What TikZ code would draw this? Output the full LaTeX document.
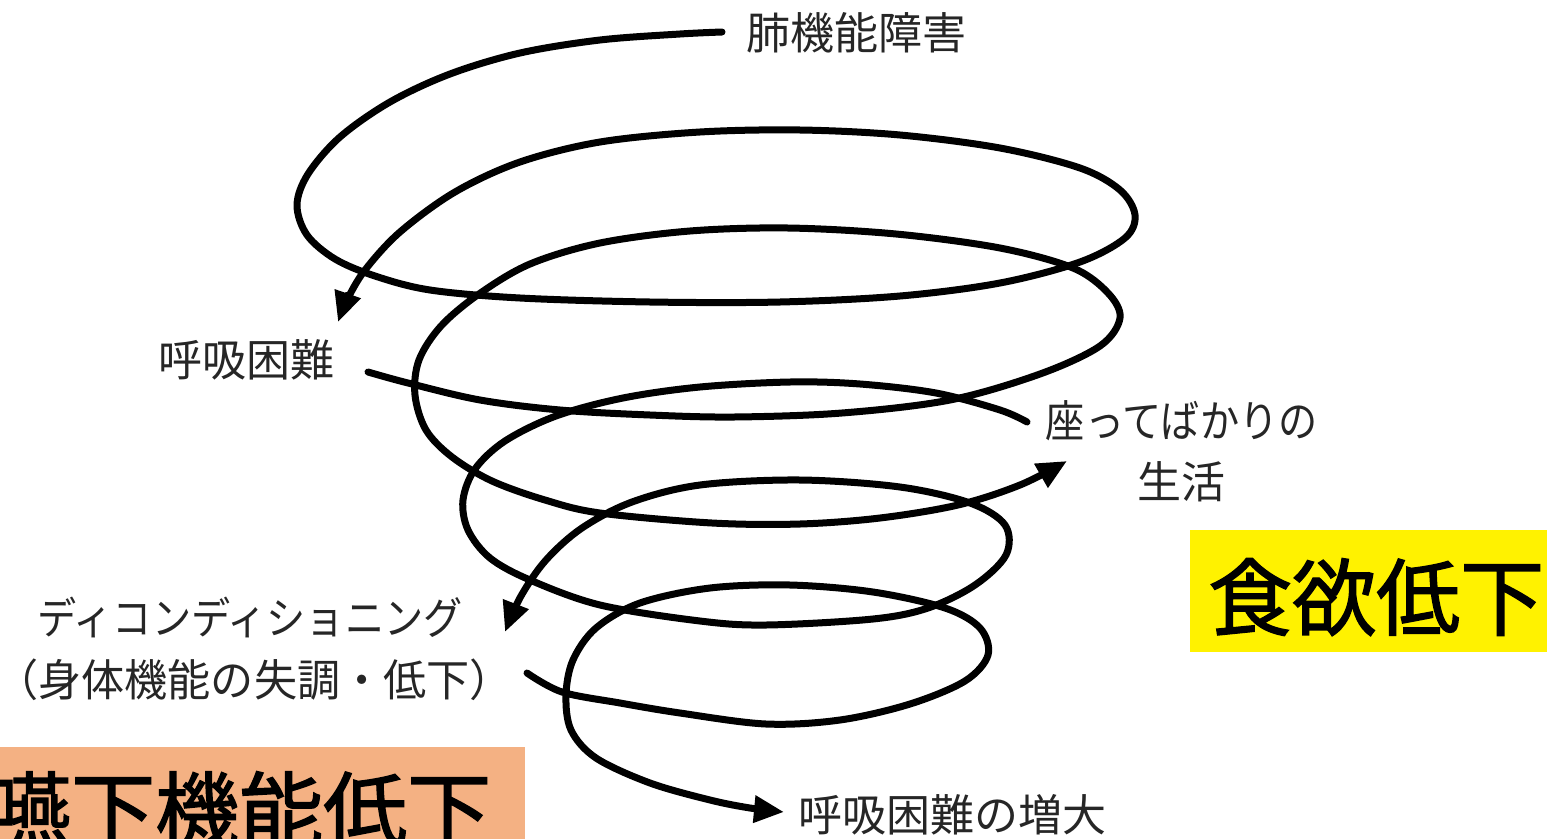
\documentclass[tikz,border=0pt]{standalone}
\usepackage{fontspec}
\setmainfont{Noto Sans CJK JP}
\newfontfamily\bigfont[FakeBold=1.6]{Noto Sans CJK JP}
\usetikzlibrary{arrows.meta}
\definecolor{peach}{RGB}{244,177,131}
\definecolor{lbl}{gray}{0.15}
\tikzset{
 spiral/.style={line width=7pt, line cap=round, line join=round, smooth, tension=0.55},
 tip/.style={-{Triangle[length=30pt,width=26pt]}},
 lab/.style={text=lbl, font=\fontsize{44}{50}\selectfont, inner sep=0pt},
 big/.style={font=\bigfont\fontsize{84}{90}\selectfont, inner sep=0pt, anchor=base west},
}
\begin{document}
\begin{tikzpicture}[x=1pt,y=-1pt]
\useasboundingbox (0,0) rectangle (1547,838);
\clip (0,0) rectangle (1547,838);
\fill[white] (0,0) rectangle (1547,838);

% labels
\node[lab] (lung) at (856,33) {肺機能障害};
\node[lab] (dysp) at (246,360) {呼吸困難};
\node[lab] (sit) at (1182,421) {\scalebox{0.89}[1]{座ってばかりの}};
\node[lab] (life) at (1181,482) {生活};
\node[lab] (decond) at (250,617) {\scalebox{0.89}[1]{ディコンディショニング}};
\node[lab] (decond2) at (254,680) {\scalebox{0.98}[1]{（身体機能の失調・低下）}};
\node[lab] (more) at (952,815) {呼吸困難の増大};

% coloured boxes
\fill[yellow] (1190,530) rectangle (1547,652);
\node[big] (appetite) at (1208,629) {食欲低下};
\fill[peach] (-5,747) rectangle (525,845);
\node[big] (swallow) at (-13,842) {嚥下機能低下};

% end points of the spiral segments
\coordinate (a0) at (722,32);
\coordinate (a1) at (338,322);
\coordinate (b0) at (368,372);
\coordinate (b1) at (1067,461);
\coordinate (c0) at (1027,422);
\coordinate (c1) at (505,632);
\coordinate (d0) at (527,673);
\coordinate (d1) at (784,812);

% segment 1
\draw[spiral,tip] plot coordinates {(a0) (680,34) (600,40) (520,53) (450,74) (390,102) (340,137) (308,174) (297,205) (307,235) (335,259) (375,276) (430,290) (520,298) (650,302) (780,302) (900,296) (1000,283) (1080,262) (1125,238) (1135,215) (1120,190) (1080,168) (1000,148) (900,135) (800,130) (700,132) (600,142) (520,162) (455,192) (400,232) (365,270) (347,300) (a1)};

% segment 2
\draw[spiral,tip] plot coordinates {(b0) (408,383) (480,400) (560,410) (650,415) (734,417) (842,413) (950,400) (1040,374) (1100,346) (1120,318) (1108,293) (1073,268) (1000,248) (896,234) (788,228) (690,231) (600,243) (530,264) (479,294) (441,326) (419,360) (415,395) (426,430) (452,457) (492,481) (545,500) (600,513) (712,523) (800,524) (880,518) (958,505) (1020,485) (b1)};

% segment 3
\draw[spiral,tip] plot coordinates {(c0) (1000,410) (936,393) (860,384) (790,382) (700,387) (623,398) (556,416) (505,441) (475,469) (463,500) (468,530) (490,558) (530,580) (600,605) (700,621) (766,625) (873,619) (928,608) (975,585) (1006,555) (1005,525) (970,503) (900,487) (800,480) (700,485) (632,502) (582,528) (546,560) (521,596) (c1)};

% segment 4
\draw[spiral,tip] plot coordinates {(d0) (562,692) (620,703) (680,713) (766,724) (840,720) (910,704) (965,681) (988,655) (980,628) (945,608) (873,592) (790,585) (710,588) (640,603) (596,628) (573,660) (566,695) (571,730) (596,758) (650,783) (710,800) (750,808) (d1)};
\end{tikzpicture}
\end{document}
